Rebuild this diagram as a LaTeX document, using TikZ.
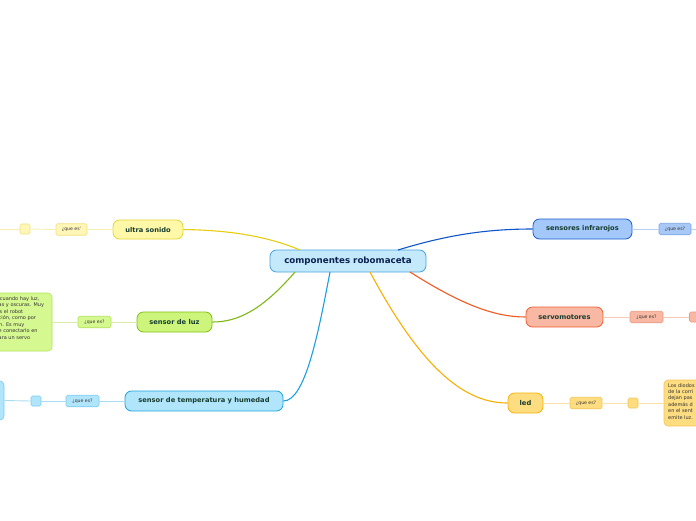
\documentclass[tikz,border=0pt]{standalone}
\usepackage{fontspec}
\setmainfont{DejaVu Sans}
\definecolor{labelc}{HTML}{173D2E}
\definecolor{centc}{HTML}{0B2250}
\definecolor{qtext}{HTML}{333333}
\definecolor{cenF}{HTML}{C4E9FB}\definecolor{cenD}{HTML}{45A4DC}
\definecolor{usF}{HTML}{FFF8A8}\definecolor{usD}{HTML}{E5D534}\definecolor{usL}{HTML}{E8CC10}\definecolor{usQ}{HTML}{FFF6B8}\definecolor{usQD}{HTML}{F0E27A}\definecolor{usS}{HTML}{F7F0B0}
\definecolor{luF}{HTML}{CDF57C}\definecolor{luD}{HTML}{80C010}\definecolor{luL}{HTML}{80B818}\definecolor{luQ}{HTML}{D6F890}\definecolor{luQD}{HTML}{B2E35A}\definecolor{luS}{HTML}{D8EEA8}
\definecolor{teF}{HTML}{B0E5FB}\definecolor{teD}{HTML}{1EA4E0}\definecolor{teL}{HTML}{1AA0E0}\definecolor{teQ}{HTML}{B0E5FB}\definecolor{teQD}{HTML}{78CCF0}\definecolor{teS}{HTML}{A8DCF2}
\definecolor{inF}{HTML}{A4C8FA}\definecolor{inD}{HTML}{1A5ECF}\definecolor{inL}{HTML}{0F55CC}\definecolor{inQ}{HTML}{A8C8F5}\definecolor{inQD}{HTML}{78A6EA}\definecolor{inS}{HTML}{B8D0F2}
\definecolor{seF}{HTML}{F8B8A3}\definecolor{seD}{HTML}{F06030}\definecolor{seL}{HTML}{F25A22}\definecolor{seQ}{HTML}{F8B8A3}\definecolor{seQD}{HTML}{EA9A80}\definecolor{seS}{HTML}{F6C8B8}
\definecolor{leF}{HTML}{FEDC80}\definecolor{leD}{HTML}{F6B30A}\definecolor{leL}{HTML}{F7B000}\definecolor{leQ}{HTML}{FEDC80}\definecolor{leQD}{HTML}{F3C75A}\definecolor{leS}{HTML}{F8E2A8}
\begin{document}
\begin{tikzpicture}[x=1pt,y=-1pt,
  mainbox/.style={draw, line width=0.8pt, rounded corners=6.5pt, inner sep=0pt, text=labelc,
    font=\bfseries\fontsize{6.7}{7}\selectfont, minimum height=20pt},
  qbox/.style={draw, line width=0.6pt, rounded corners=1.5pt, inner sep=0pt, text=qtext,
    font=\fontsize{4.6}{5}\selectfont, minimum height=11.5pt, minimum width=32pt},
  sqbox/.style={draw, line width=0.6pt, rounded corners=1.5pt, inner sep=0pt, minimum width=10pt, minimum height=10pt},
  txtbox/.style={draw, line width=0.6pt, rounded corners=4pt},
  body/.style={text=qtext, font=\fontsize{5}{6.45}\selectfont, align=left, inner sep=0pt},
  conn/.style={line width=1.1pt},
  sub/.style={line width=0.9pt}
]
\clip (0,0) rectangle (696,520);
\fill[white] (0,0) rectangle (696,520);

% central
\node[mainbox, fill=cenF, draw=cenD, text=centc, minimum width=156pt, minimum height=22pt,
  font=\bfseries\fontsize{8.7}{9}\selectfont] (c) at (348,261) {componentes robomaceta};
\coordinate (cus) at (300,250);
\coordinate (clu) at (295,272);
\coordinate (cte) at (330,272);
\coordinate (cin) at (398,250);
\coordinate (cse) at (410,272);
\coordinate (cle) at (370,272);

% children
\node[mainbox, fill=usF, draw=usD, minimum width=70pt, minimum height=19pt] (us) at (148,229.5) {ultra sonido};
\node[mainbox, fill=luF, draw=luD, minimum width=75pt] (lu) at (174.5,322) {sensor de luz};
\node[mainbox, fill=teF, draw=teD, minimum width=158pt] (te) at (204,401) {sensor de temperatura y humedad};
\node[mainbox, fill=inF, draw=inD, minimum width=99pt] (in) at (582.5,229) {sensores infrarojos};
\node[mainbox, fill=seF, draw=seD, minimum width=77pt] (se) at (564.5,317) {servomotores};
\node[mainbox, fill=leF, draw=leD, minimum width=35pt] (le) at (525.5,403) {led};

% main connectors
\draw[conn, usL] (cus) .. controls (260,233) and (215,230) .. (us.east);
\draw[conn, luL] (clu) .. controls (262,310) and (238,322) .. (lu.east);
\draw[conn, teL] (cte) .. controls (318,335) and (305,401) .. (te.east);
\draw[conn, inL] (cin) .. controls (450,234) and (490,229) .. (in.west);
\draw[conn, seL] (cse) .. controls (462,305) and (495,317) .. (se.west);
\draw[conn, leL] (cle) .. controls (425,375) and (468,403) .. (le.west);

% ultra sonido branch
\node[qbox, fill=usQ, draw=usQD, minimum width=31pt] (usq) at (71.5,229.5) {¿que es'};
\node[sqbox, fill=usQ, draw=usQD] (uss) at (25,229) {};
\coordinate (usend) at (-5,229);
\draw[sub, usS] (us.west) -- (usq.east);
\draw[sub, usS] (usq.west) -- (uss.east);
\draw[sub, usS] (uss.west) -- (usend);

% sensor de luz branch
\node[qbox, fill=luQ, draw=luQD, minimum width=33pt] (luq) at (94.5,322) {¿que es?};
\node[txtbox, fill=luQ, draw=luQD, minimum width=62pt, minimum height=58pt] (lut) at (21,322) {};
\node[body, anchor=north west] (lub) at (-1.5,296.5) {\hspace*{1.2pt}cuando hay luz,\\as y oscuras. Muy\\\hspace*{1pt}s el robot\\ción, como por\\\hspace*{0.5pt}n. Es muy\\e conectarlo en\\ara un servo};
\draw[sub, luS] (lu.west) -- (luq.east);
\draw[sub, luS] (luq.west) -- (lut.east);

% temperatura branch
\node[qbox, fill=teQ, draw=teQD, minimum width=33pt] (teq) at (82.5,401) {¿que es?};
\node[sqbox, fill=teQ, draw=teQD] (tes) at (36,401) {};
\node[txtbox, fill=teQ, draw=teQD, minimum width=24pt, minimum height=39pt] (tet) at (-8,400.5) {};
\draw[sub, teS] (te.west) -- (teq.east);
\draw[sub, teS] (teq.west) -- (tes.east);
\draw[sub, teS] (tes.west) -- (tet.east);

% infrarojos branch
\node[qbox, fill=inQ, draw=inQD, minimum width=32pt] (inq) at (675,229) {¿que es?};
\coordinate (inend) at (700,229);
\draw[sub, inS] (in.east) -- (inq.west);
\draw[sub, inS] (inq.east) -- (inend);

% servomotores branch
\node[qbox, fill=seQ, draw=seQD, minimum width=33pt] (seq) at (646.5,317) {¿que es?};
\node[sqbox, fill=seQ, draw=seQD] (ses) at (694.5,317) {};
\draw[sub, seS] (se.east) -- (seq.west);
\draw[sub, seS] (seq.east) -- (ses.west);

% led branch
\node[qbox, fill=leQ, draw=leQD, minimum width=32pt] (leq) at (586,403) {¿que es?};
\node[sqbox, fill=leQ, draw=leQD] (les) at (633,403) {};
\node[txtbox, fill=leQ, draw=leQD, minimum width=46pt, minimum height=46pt] (let) at (687,403) {};
\node[body, anchor=north west] (leb) at (668,383) {Los diodos\\de la corri\\dejan pas\\además d\\en el sent\\emite luz.};
\draw[sub, leS] (le.east) -- (leq.west);
\draw[sub, leS] (leq.east) -- (les.west);
\draw[sub, leS] (les.east) -- (let.west);
\end{tikzpicture}
\end{document}
